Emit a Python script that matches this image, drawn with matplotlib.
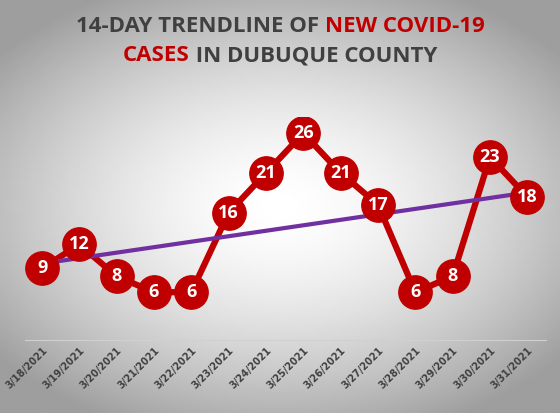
import numpy as np
import matplotlib.pyplot as plt

dates = ['3/18/2021', '3/19/2021', '3/20/2021', '3/21/2021', '3/22/2021', '3/23/2021', '3/24/2021',
         '3/25/2021', '3/26/2021', '3/27/2021', '3/28/2021', '3/29/2021', '3/30/2021', '3/31/2021']
cases = [9, 12, 8, 6, 6, 16, 21, 26, 21, 17, 6, 8, 23, 18]

fig = plt.figure(figsize=(5.6, 4.13), dpi=100)

# radial gradient background
bg = fig.add_axes([0, 0, 1, 1], zorder=-1)
yy, xx = np.mgrid[-1:1:200j, -1:1:200j]
r = np.sqrt((xx / 1.0) ** 2 + (yy / 0.9) ** 2)
bg.imshow(1 - 0.25 * np.clip(r, 0, 1.3) ** 1.6, cmap='gray', vmin=0, vmax=1, aspect='auto',
          extent=[0, 1, 0, 1])
bg.axis('off')

ax = fig.add_axes([0.045, 0.177, 0.93, 0.539])
ax.patch.set_alpha(0)
x = np.arange(len(cases))

k, b = np.polyfit(x, cases, 1)
ax.plot(x, cases, color='#c00000', lw=4.5, zorder=2)
ax.plot(x, k * x + b, color='#7030a0', lw=3, zorder=3)
ax.plot(x, cases, 'o', ms=24, color='#c00000', zorder=4)
for xi, v in zip(x, cases):
    ax.text(xi, v, str(v), ha='center', va='center', color='white', fontsize=13,
            fontweight='bold', family='Open Sans', zorder=5)

ax.set_xlim(-0.45, len(cases) - 0.5)
ax.set_ylim(0, 28)
ax.set_yticks([])
ax.set_xticks(x)
ax.set_xticklabels(dates, rotation=45, ha='right', rotation_mode='anchor', fontsize=7,
                   fontweight='bold', color='#404040')
ax.tick_params(axis='x', length=0, pad=4)
for s in ['top', 'right', 'left']:
    ax.spines[s].set_visible(False)
ax.spines['bottom'].set_color('#d0d0d0')

# two-colour title
fig.canvas.draw()
r_ = fig.canvas.get_renderer()
def line(parts, y):
    texts = [fig.text(0, y, t, color=c, fontsize=16, fontweight='bold', family='Open Sans',
                      va='center') for t, c in parts]
    ws = [t.get_window_extent(r_).width for t in texts]
    x0 = (fig.bbox.width - sum(ws)) / 2
    for t, w in zip(texts, ws):
        t.set_x(x0 / fig.bbox.width)
        x0 += w

gray, red = '#404040', '#c00000'
line([('14-DAY TRENDLINE OF ', gray), ('NEW COVID-19', red)], 0.935)
line([('CASES', red), (' IN DUBUQUE COUNTY', gray)], 0.865)

fig.savefig('out.png', dpi=100)
